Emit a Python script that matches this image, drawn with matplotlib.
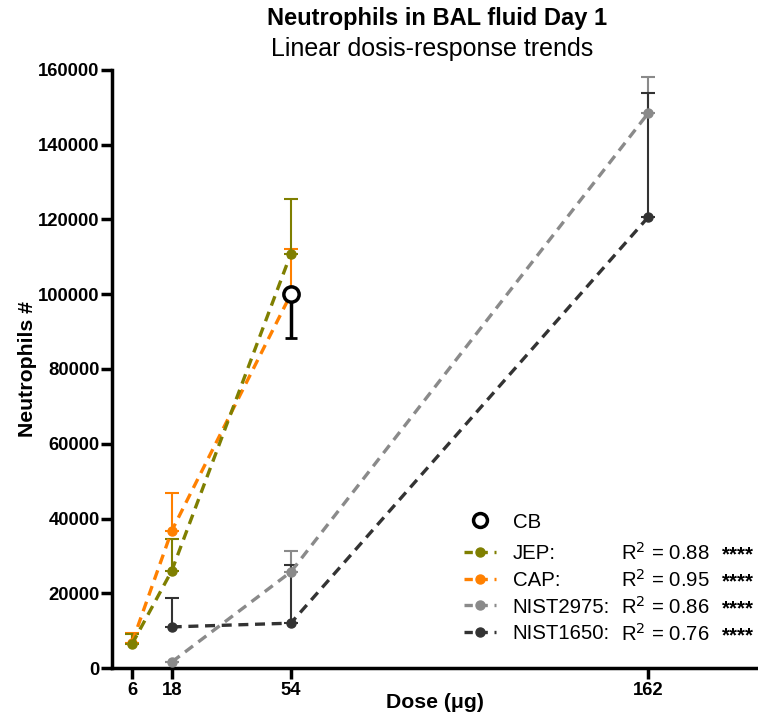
import matplotlib
matplotlib.use('Agg')
import matplotlib.pyplot as plt
from matplotlib.lines import Line2D

plt.rcParams['font.family'] = ['Liberation Sans', 'DejaVu Sans']

# values
jep_dose = [6, 18, 54]
jep_mean = [6400, 26000, 110800]
jep_err = [2800, 8500, 14800]

cap_dose = [6, 18, 54]
cap_mean = [6800, 36700, 100000]
cap_err = [2500, 10000, 12200]

n2975_dose = [18, 54, 162]
n2975_mean = [1600, 25700, 148400]
n2975_err = [0, 5500, 9800]

n1650_dose = [18, 54, 162]
n1650_mean = [11000, 12000, 120600]
n1650_err = [7700, 15600, 33200]

cb_dose = [54]
cb_mean = [100000]
cb_err = [11800]

names = ['JEP:', 'CAP:', 'NIST2975:', 'NIST1650:']
r2 = ['0.88', '0.95', '0.86', '0.76']
stars = ['****', '****', '****', '****']
colors = ['#7f7f00', '#ff8000', '#8a8a8a', '#333333']

fig = plt.figure(figsize=(7.58, 7.14), dpi=100)
ax = fig.add_axes([0.148, 0.0644, 0.851, 0.8376])

series = [(jep_dose, jep_mean, jep_err), (cap_dose, cap_mean, cap_err),
          (n2975_dose, n2975_mean, n2975_err), (n1650_dose, n1650_mean, n1650_err)]
order = [1, 0, 2, 3]
for i in order:
    d, m, e = series[i]
    c = colors[i]
    ax.errorbar(d, m, yerr=[[0] * len(e), e], fmt='none', ecolor=c,
                elinewidth=1.5, capsize=5, capthick=1.5, zorder=2)
    ax.plot(d, m, linestyle=(0, (3, 2)), linewidth=2.4, color=c,
            marker='o', markersize=6.5, zorder=3)

ax.errorbar(cb_dose, cb_mean, yerr=[cb_err, [0]], fmt='none', ecolor='black',
            elinewidth=2.5, capsize=4, capthick=2, zorder=4)
ax.plot(cb_dose, cb_mean, linestyle='none', marker='o', markersize=11,
        markerfacecolor='white', markeredgecolor='black',
        markeredgewidth=2.5, zorder=5)

ax.set_xlim(0, 195)
ax.set_ylim(0, 160000)
ax.set_xticks([6, 18, 54, 162])
ax.set_yticks(range(0, 160001, 20000))
for s in ['top', 'right']:
    ax.spines[s].set_visible(False)
for s in ['left', 'bottom']:
    ax.spines[s].set_linewidth(2.5)
ax.tick_params(width=2.5, length=8, labelsize=13.3)
ax.tick_params(axis='x', pad=2)
ax.tick_params(axis='y', pad=1)
for lab in ax.get_xticklabels() + ax.get_yticklabels():
    lab.set_fontweight('bold')

ax.set_xlabel('Dose (\u03bcg)', fontsize=15.3, fontweight='bold', labelpad=-4)
ax.set_ylabel('Neutrophils #', fontsize=15.3, fontweight='bold', labelpad=1)

fig.text(0.576, 0.974, 'Neutrophils in BAL fluid Day 1', ha='center', va='center',
         fontsize=17, fontweight='bold')
fig.text(0.570, 0.932, 'Linear dosis-response trends', ha='center', va='center',
         fontsize=18)

# legend: CB alone, then the four trend series
cb_h = Line2D([], [], linestyle='none', marker='o', markersize=10,
              markerfacecolor='white', markeredgecolor='black', markeredgewidth=2.5)
leg1 = ax.legend([cb_h], ['CB'], loc='center left',
                 bbox_to_anchor=(0.545, (668 - 522) / 598), frameon=False,
                 fontsize=14.7, handlelength=1.6, handletextpad=0.8, borderaxespad=0,
                 borderpad=0)
ax.add_artist(leg1)
hs = [Line2D([], [], linestyle=(0, (2.5, 2)), linewidth=2.4, color=c, marker='o',
             markersize=6.5) for c in colors]
ax.legend(hs, names, loc='upper left',
          bbox_to_anchor=(0.545, (668 - 544) / 598), frameon=False, fontsize=14.7,
          handlelength=1.6, handletextpad=0.8, labelspacing=0.38,
          borderaxespad=0, borderpad=0)

ys = [553, 580, 607, 634]
for k in range(4):
    fig.text(621 / 758, 1 - ys[k] / 714, 'R$^2$ = ' + r2[k], ha='left', va='center',
             fontsize=14.7)
    fig.text(722 / 758, 1 - (ys[k] + 2) / 714, stars[k], ha='left', va='center',
             fontsize=14.7, fontweight='bold')

fig.savefig('out.png', dpi=100)
